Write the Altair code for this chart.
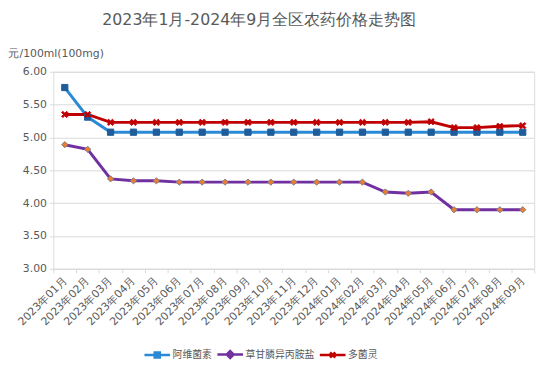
import altair as alt
import pandas as pd

months = ["2023年01月", "2023年02月", "2023年03月", "2023年04月", "2023年05月", "2023年06月",
          "2023年07月", "2023年08月", "2023年09月", "2023年10月", "2023年11月", "2023年12月",
          "2024年01月", "2024年02月", "2024年03月", "2024年04月", "2024年05月", "2024年06月",
          "2024年07月", "2024年08月", "2024年09月"]

series_names = ["阿维菌素", "草甘膦异丙胺盐", "多菌灵"]
marker_keys = ["m_square", "m_diamond", "m_x"]

abamectin = [5.76, 5.31, 5.08, 5.08, 5.08, 5.08, 5.08, 5.08, 5.08, 5.08, 5.08, 5.08,
             5.08, 5.08, 5.08, 5.08, 5.08, 5.08, 5.08, 5.08, 5.08]
glyphosate = [4.89, 4.82, 4.37, 4.34, 4.34, 4.32, 4.32, 4.32, 4.32, 4.32, 4.32, 4.32,
              4.32, 4.32, 4.17, 4.15, 4.17, 3.90, 3.90, 3.90, 3.90]
carbendazim = [5.35, 5.35, 5.23, 5.23, 5.23, 5.23, 5.23, 5.23, 5.23, 5.23, 5.23, 5.23,
               5.23, 5.23, 5.23, 5.23, 5.24, 5.15, 5.15, 5.17, 5.18]

y_ticks = [3.0, 3.5, 4.0, 4.5, 5.0, 5.5, 6.0]

rows = []
for name, key, vals in zip(series_names, marker_keys, [abamectin, glyphosate, carbendazim]):
    for m, v in zip(months, vals):
        rows.append({"month": m, "series": name, "marker": key, "value": v})
df = pd.DataFrame(rows)

line_colors = ["#2b8ad6", "#7030a0", "#c00000"]
marker_fill = ["#1f5c99", "#ed7d31", "#c00000"]
marker_stroke = ["#1f5c99", "#808080", "#c00000"]
xpath = "M-1,-0.6L-0.6,-1L0,-0.4L0.6,-1L1,-0.6L0.4,0L1,0.6L0.6,1L0,0.4L-0.6,1L-1,0.6L-0.4,0Z"
marker_shapes = ["square", "diamond", xpath]

grey = "#595959"
font = "DejaVu Sans"

x_enc = alt.X("month:N", sort=months, scale=alt.Scale(type="band", domain=months, paddingInner=0, paddingOuter=0),
              axis=alt.Axis(title=None, labelAngle=-45, labelAlign="right", labelBaseline="middle",
                            labelFontSize=11, labelColor=grey, labelFont=font, labelPadding=6,
                            tickBand="extent", ticks=True, tickSize=4, tickColor="#d9d9d9",
                            domainColor="#d9d9d9", grid=False, labelOverlap=False))
y_enc = alt.Y("value:Q", scale=alt.Scale(domain=[3, 6], nice=False, zero=False),
              axis=alt.Axis(values=y_ticks, format=".2f", title="元/100ml(100mg)", titleAngle=0,
                            titleX=-46, titleY=-18, titleAlign="left", titleBaseline="middle",
                            titleFontSize=11, titleFontWeight="normal", titleColor=grey, titleFont=font,
                            labelFontSize=11, labelColor=grey, labelFont=font, labelPadding=3,
                            tickSize=4, tickColor="#d9d9d9", domain=False,
                            grid=True, gridColor="#d9d9d9"))

sym_expr = ("datum.value == '阿维菌素' ? 'M-1,0H1M-0.2,-0.2H0.2V0.2H-0.2Z' : "
            "datum.value == '草甘膦异丙胺盐' ? 'M-1,0H1M0,-0.27L0.27,0L0,0.27L-0.27,0Z' : "
            "'M-1,0H1M-0.2,-0.2L0.2,0.2M0.2,-0.2L-0.2,0.2'")
fill_expr = ("datum.value == '阿维菌素' ? '#1f5c99' : "
             "datum.value == '草甘膦异丙胺盐' ? '#ed7d31' : '#c00000'")

legend = alt.Legend(title=None, orient="none", legendX=91, legendY=272, direction="horizontal",
                    symbolType=alt.ExprRef(expr=sym_expr), symbolSize=676, symbolStrokeWidth=2.5,
                    symbolFillColor=alt.ExprRef(expr=fill_expr),
                    labelFontSize=10, labelColor=grey, labelFont="Noto Sans CJK SC",
                    labelOffset=1, columnPadding=0)

base = alt.Chart(df)

lines = base.mark_line(strokeWidth=3).encode(
    x=x_enc, y=y_enc,
    color=alt.Color("series:N", scale=alt.Scale(domain=series_names, range=line_colors), legend=legend),
)

points = base.mark_point(filled=True, size=40, strokeWidth=1, opacity=1).encode(
    x=x_enc, y=y_enc,
    shape=alt.Shape("marker:N", scale=alt.Scale(domain=marker_keys, range=marker_shapes), legend=None),
    fill=alt.Fill("marker:N", scale=alt.Scale(domain=marker_keys, range=marker_fill), legend=None),
    stroke=alt.Stroke("marker:N", scale=alt.Scale(domain=marker_keys, range=marker_stroke), legend=None),
)

chart = alt.layer(lines, points).properties(
    width=488, height=200,
    title=alt.Title("2023年1月-2024年9月全区农药价格走势图", fontSize=16, color=grey, font=font,
                    fontWeight="normal", anchor="middle", dx=-35, offset=20),
    autosize=alt.AutoSizeParams(type="none"),
    padding={"left": 46, "top": 62, "right": 12, "bottom": 104},
).configure_view(stroke=None).configure(background="white")

chart.save("out.html", embed_options={"renderer": "svg", "actions": False})
